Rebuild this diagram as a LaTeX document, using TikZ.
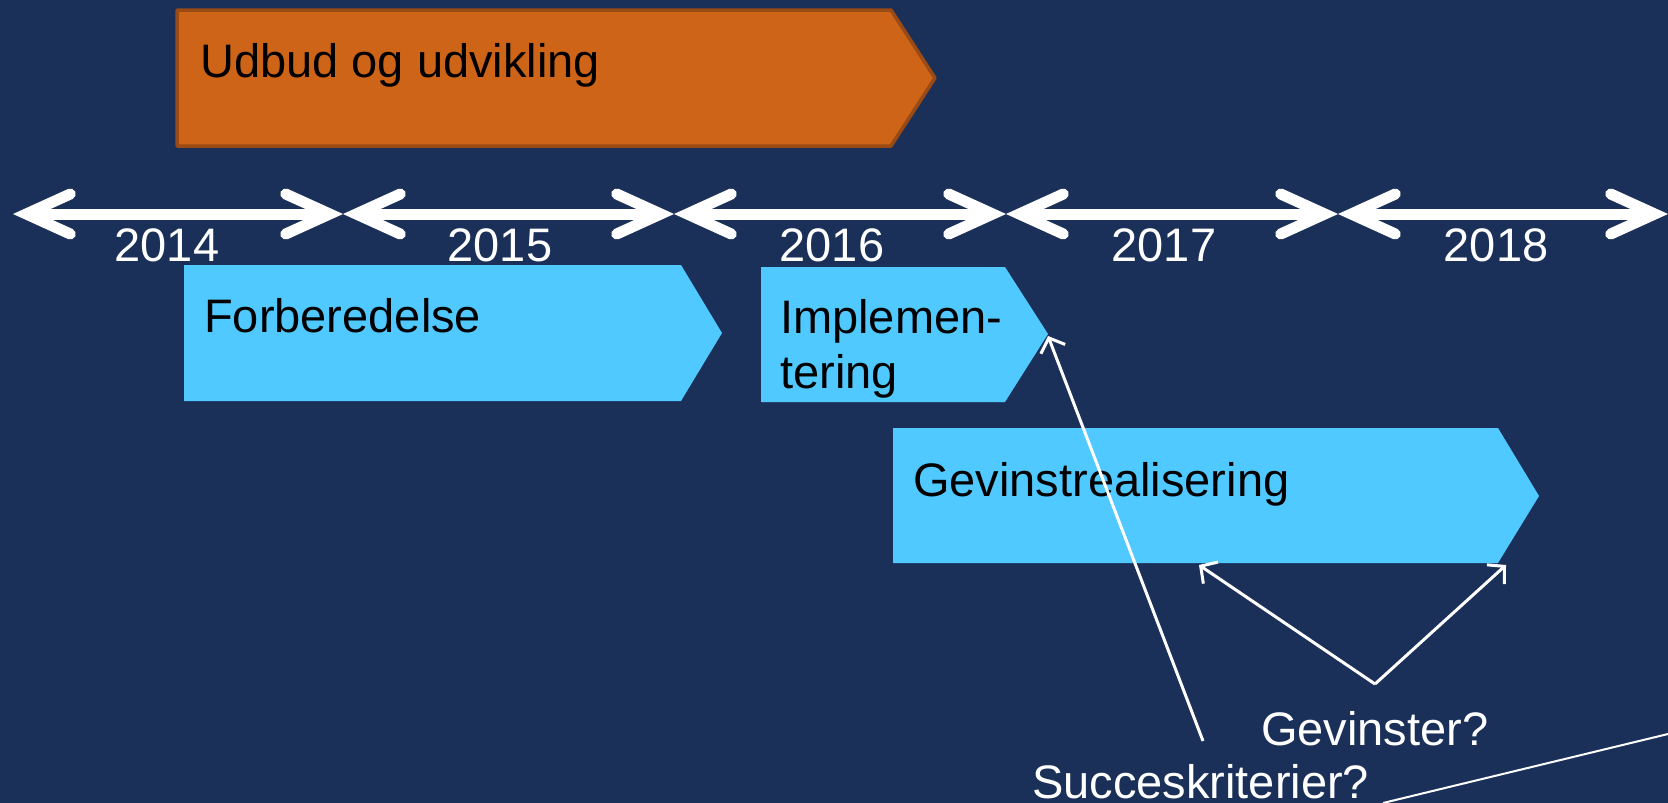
\documentclass[tikz,border=0pt]{standalone}
\usepackage{fontspec}
\setmainfont{Liberation Sans}
\usetikzlibrary{arrows.meta}
\definecolor{bg}{HTML}{1B3059}
\definecolor{lblue}{HTML}{4FC9FF}
\definecolor{orfill}{HTML}{CD6418}
\definecolor{oredge}{HTML}{9A4A14}
\begin{document}
\begin{tikzpicture}[x=1pt,y=-1pt,
  lbl/.style={inner sep=0pt,anchor=base west,font=\fontsize{47}{55}\selectfont},
  yearlbl/.style={inner sep=0pt,anchor=base,text=white,font=\fontsize{47}{55}\selectfont},
  yeararrow/.style={draw=white,line width=11pt,
    {Straight Barb[length=44pt,width=40pt,line cap=round,line join=miter]}-{Straight Barb[length=44pt,width=40pt,line cap=round,line join=miter]}},
  phase/.style={fill=lblue},
  pointer/.style={draw=white,line width=3pt,-{Straight Barb[length=12pt,width=26pt]}}
]
\fill[bg] (0,0) rectangle (1668,803);
\useasboundingbox (0,0) rectangle (1668,803);

% orange phase
\draw[fill=orfill,draw=oredge,line width=3.5pt,line join=round]
  (177,10) -- (891,10) -- (935,78) -- (891,146) -- (177,146) -- cycle;
\node[lbl] (udbud) at (200,77) {Udbud og udvikling};

% timeline
\foreach \i/\x in {0/13,1/343,2/674,3/1006,4/1338,5/1668}
  \coordinate (t\i) at (\x,214);
\draw[yeararrow] (t0) -- (t1);
\draw[yeararrow] (t1) -- (t2);
\draw[yeararrow] (t2) -- (t3);
\draw[yeararrow] (t3) -- (t4);
\draw[yeararrow] (t4) -- (t5);
\node[yearlbl] (y2014) at (167,261) {2014};
\node[yearlbl] (y2015) at (500,261) {2015};
\node[yearlbl] (y2016) at (832,261) {2016};
\node[yearlbl] (y2017) at (1164,261) {2017};
\node[yearlbl] (y2018) at (1496,261) {2018};

% blue phases
\fill[phase] (184,265) -- (681,265) -- (722,333) -- (681,401) -- (184,401) -- cycle;
\node[lbl] (forb) at (204,332) {Forberedelse};

\fill[phase] (761,267) -- (1005,267) -- (1048,334) -- (1005,402) -- (761,402) -- cycle;
\coordinate (impltip) at (1048,336);
\node[lbl] (impl1) at (780,333) {Implemen-};
\node[lbl] (impl2) at (780,388) {tering};

\fill[phase] (893,428) -- (1498,428) -- (1539,496) -- (1498,563) -- (893,563) -- cycle;
\coordinate (gevA) at (1199,565);
\coordinate (gevB) at (1506,565);
\node[lbl] (gevr) at (913,496) {Gevinstrealisering};

% questions
\node[lbl,text=white] (gevq) at (1261,745) {Gevinster?};
\node[lbl,text=white] (succ) at (1032,798) {Succeskriterier?};
\coordinate (apex) at (1375,684);
\coordinate (succtop) at (1203,741);
\coordinate (lineA) at (1383,803);
\coordinate (lineB) at (1668,734);

\draw[pointer] (succtop) -- (impltip);
\draw[pointer] (apex) -- (gevA);
\draw[pointer] (apex) -- (gevB);
\draw[draw=white,line width=2pt] (lineA) -- (lineB);
\end{tikzpicture}
\end{document}
